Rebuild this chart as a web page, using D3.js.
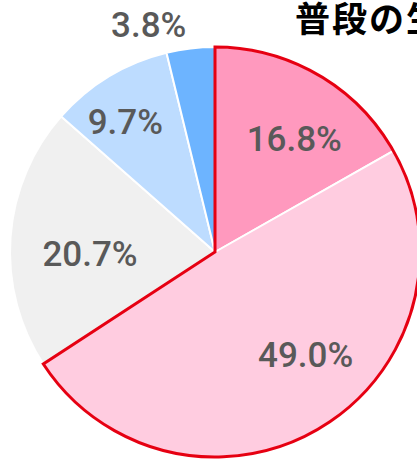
<!DOCTYPE html>
<html>
<head>
<meta charset="utf-8">
<script src="https://cdn.jsdelivr.net/npm/d3@7"></script>
<style>
  body { margin: 0; background: #fff; }
  svg { display: block; }
</style>
</head>
<body>
<div id="chart"></div>
<script>
/* DATA */
const categories = ["a", "b", "c", "d", "e"];
const values = [16.8, 49.0, 20.7, 9.7, 3.8];
const labels = ["16.8%", "49.0%", "20.7%", "9.7%", "3.8%"];
const colors = ["#ff99be", "#ffcce0", "#f0f0f0", "#bddcff", "#6db4ff"];
const title = "普段の生活";

// label placement: fraction of radius, angle nudge in degrees
const labelPos = [
  { r: 0.67, da: 5 },
  { r: 0.67, da: -10 },
  { r: 0.61, da: -5.5 },
  { r: 0.77, da: -3.5 },
  { r: 1.15, da: -9.5 }
];

/* CONSTANTS */
const width = 417,
  height = 461,
  cx = 215,
  cy = 252,
  radius = 205;

const svg = d3.select("#chart")
  .append("svg")
  .attr("width", width)
  .attr("height", height);

const pie = d3.pie().sort(null).value(d => d.value);
const arcs = pie(categories.map((c, i) => ({ key: c, value: values[i], label: labels[i], color: colors[i] })));

const arc = d3.arc().innerRadius(0).outerRadius(radius);

const g = svg.append("g").attr("transform", `translate(${cx},${cy})`);

// slices
g.selectAll("path.slice")
  .data(arcs)
  .join("path")
  .attr("class", "slice")
  .attr("d", arc)
  .attr("fill", d => d.data.color)
  .attr("stroke", "#fff")
  .attr("stroke-width", 2)
  .attr("stroke-linejoin", "round");

// red outline around the first two slices
g.append("path")
  .attr("d", arc({ startAngle: arcs[0].startAngle, endAngle: arcs[1].endAngle }))
  .attr("fill", "none")
  .attr("stroke", "#e60012")
  .attr("stroke-width", 3)
  .attr("stroke-linejoin", "miter");

// labels
g.selectAll("text.lbl")
  .data(arcs)
  .join("text")
  .attr("class", "lbl")
  .attr("x", (d, i) => {
    const a = (d.startAngle + d.endAngle) / 2 + labelPos[i].da * Math.PI / 180;
    return Math.sin(a) * radius * labelPos[i].r;
  })
  .attr("y", (d, i) => {
    const a = (d.startAngle + d.endAngle) / 2 + labelPos[i].da * Math.PI / 180;
    return -Math.cos(a) * radius * labelPos[i].r;
  })
  .attr("text-anchor", "middle")
  .attr("dominant-baseline", "central")
  .attr("font-family", "Roboto, 'Noto Sans', sans-serif")
  .attr("font-weight", 500)
  .attr("font-size", 35)
  .attr("fill", "#595959")
  .text(d => d.data.label);

// title (cut off at the right edge, as in the original)
svg.append("text")
  .attr("x", 295)
  .attr("y", 32)
  .attr("font-family", "'Noto Sans CJK JP', sans-serif")
  .attr("font-weight", "bold")
  .attr("font-size", 35)
  .attr("letter-spacing", 2)
  .attr("fill", "#000")
  .text(title);
</script>
</body>
</html>
